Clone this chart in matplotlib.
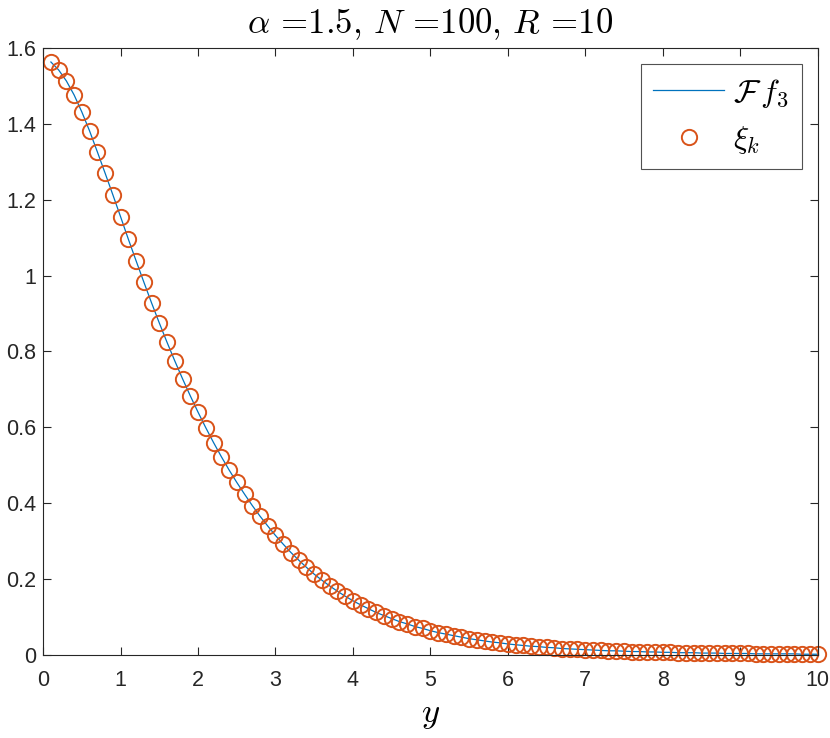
import matplotlib
matplotlib.use("Agg")
import numpy as np
import matplotlib.pyplot as plt

plt.rcParams["font.family"] = ["Liberation Sans", "DejaVu Sans"]
plt.rcParams["mathtext.fontset"] = "cm"

# ---- data ----
y_grid = np.linspace(0.1, 10, 100)
xi_k = [
    1.563, 1.542, 1.513, 1.476, 1.431, 1.381, 1.326, 1.270, 1.213, 1.155,
    1.096, 1.039, 0.983, 0.928, 0.875, 0.824, 0.775, 0.728, 0.683, 0.640,
    0.599, 0.560, 0.523, 0.488, 0.455, 0.424, 0.394, 0.366, 0.340, 0.315,
    0.292, 0.270, 0.250, 0.231, 0.213, 0.197, 0.182, 0.168, 0.155, 0.143,
    0.132, 0.122, 0.112, 0.104, 0.096, 0.088, 0.082, 0.075, 0.070, 0.064,
    0.059, 0.055, 0.051, 0.047, 0.043, 0.040, 0.037, 0.034, 0.032, 0.029,
    0.027, 0.025, 0.023, 0.022, 0.020, 0.019, 0.017, 0.016, 0.015, 0.014,
    0.013, 0.012, 0.011, 0.011, 0.010, 0.009, 0.009, 0.008, 0.008, 0.007,
    0.007, 0.006, 0.006, 0.006, 0.005, 0.005, 0.005, 0.004, 0.004, 0.004,
    0.004, 0.003, 0.003, 0.003, 0.003, 0.003, 0.003, 0.002, 0.002, 0.002,
]
Ff3 = xi_k
xticks = [0, 1, 2, 3, 4, 5, 6, 7, 8, 9, 10]
yticks = [0, 0.2, 0.4, 0.6, 0.8, 1, 1.2, 1.4, 1.6]
yticklabels = ["0", "0.2", "0.4", "0.6", "0.8", "1", "1.2", "1.4", "1.6"]

AX_COLOR = "#262626"
LINE_BLUE = "#0072BD"
MARK_ORANGE = "#D95319"

fig = plt.figure(figsize=(8.3, 7.38), dpi=100)
ax = fig.add_axes([0.052, 0.1125, 0.933, 0.8225])

ax.plot(y_grid, Ff3, color=LINE_BLUE, lw=0.9, label=r"$\mathcal{F}\,f_3$")
ax.plot(y_grid, xi_k, ls="none", marker="o", ms=11, mfc="none", mec=MARK_ORANGE,
        mew=1.4, clip_on=False, label=r"$\xi_k$")

ax.set_xlim(0, 10)
ax.set_ylim(0, 1.6)
ax.set_xticks(xticks)
ax.set_xticklabels([str(t) for t in xticks])
ax.set_yticks(yticks)
ax.set_yticklabels(yticklabels)
ax.tick_params(direction="in", length=6, width=0.8, colors=AX_COLOR,
               labelsize=15.5, top=True, right=True)
ax.tick_params(axis="x", pad=11)
ax.tick_params(axis="y", pad=5)
for s in ax.spines.values():
    s.set_color(AX_COLOR)
    s.set_linewidth(0.8)

ax.set_title(r"$\alpha$ =1.5, $N$ =100, $R$ =10", fontsize=25,
             family="cmr10", pad=11)
ax.set_xlabel(r"$y$", fontsize=25, labelpad=5)

leg = ax.legend(loc="upper right", fontsize=23, frameon=True, fancybox=False,
                edgecolor=AX_COLOR, handlelength=2.2, borderaxespad=0.5,
                labelspacing=0.45, handletextpad=0.3, borderpad=0.4)
leg.get_frame().set_linewidth(0.8)

fig.savefig("out.png", dpi=100, facecolor="white")
